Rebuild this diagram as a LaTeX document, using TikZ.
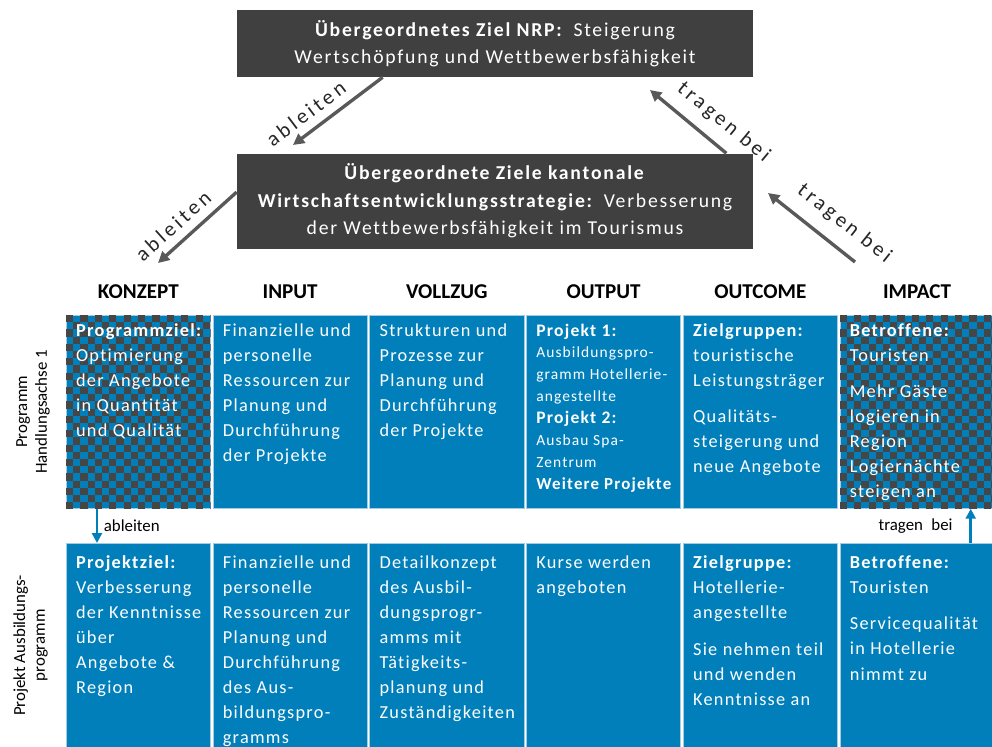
\documentclass[tikz,border=0pt]{standalone}
\usepackage{fontspec}
\setmainfont{Carlito}
\newfontfamily\cellfont{Carlito}[LetterSpace=7, Ligatures=NoCommon]
\newfontfamily\boxfont{Carlito}[LetterSpace=9, Ligatures=NoCommon]
\newfontfamily\arrowfont{Carlito}[LetterSpace=16, Ligatures=NoCommon]
\usetikzlibrary{arrows.meta,positioning,calc}
\definecolor{ablue}{RGB}{0,127,186}
\definecolor{darkbox}{RGB}{64,64,64}
\definecolor{checkgray}{RGB}{70,70,70}
\definecolor{arrowgray}{RGB}{89,89,89}
\definecolor{cellline}{RGB}{160,205,228}

\begin{document}
\begin{tikzpicture}[
    x=0.025cm, y=-0.025cm,
    node distance=0.05cm,
    topbox/.style={rectangle, fill=darkbox, text=white, minimum width=12.9cm, align=center, font=\boxfont\fontsize{14}{19.5}\selectfont},
    head/.style={font=\fontsize{15}{17}\selectfont\bfseries, inner sep=0pt},
    cell/.style={rectangle, fill=ablue, draw=cellline, line width=0.5pt, inner sep=0pt, minimum width=3.85cm, minimum height=4.825cm},
    cellrow/.style={cell, minimum height=5.1cm},
    celltext/.style={text=white, align=left, inner sep=0pt, font=\cellfont\fontsize{13}{17.8}\selectfont},
    rowlabel/.style={rotate=90, align=center, inner sep=0pt, font=\fontsize{12}{14}\selectfont},
    grayarrow/.style={-{Triangle[length=8pt,width=8pt]}, line width=2.4pt, draw=arrowgray},
    bluearrow/.style={-{Triangle[length=7pt,width=7pt]}, line width=1.8pt, draw=ablue},
    slopelabel/.style={sloped, inner sep=0pt, font=\arrowfont\fontsize{15}{17}\selectfont, text=black!85},
    smalllabel/.style={font=\fontsize{12}{14}\selectfont, inner sep=0pt}
]
\useasboundingbox (0,0) rectangle (992,747);

% top goals
\node[topbox, minimum height=1.675cm] (nrp) at (495,43.5) {\textbf{Übergeordnetes Ziel NRP:}\enspace Steigerung\\Wertschöpfung und Wettbewerbsfähigkeit};
\node[topbox, minimum height=2.375cm, below=1.9cm of nrp] (kant) {\textbf{Übergeordnete Ziele kantonale}\\\textbf{Wirtschaftsentwicklungsstrategie:}\enspace Verbesserung\\der Wettbewerbsfähigkeit im Tourismus};

% row 1: Programm
\node[cell, anchor=north west, minimum width=3.6cm] (k1) at (66,315) {};
\node[cell, right=of k1] (k2) {};
\node[cell, right=of k2] (k3) {};
\node[cell, right=of k3] (k4) {};
\node[cell, right=of k4] (k5) {};
\node[cell, right=of k5] (k6) {};

% row 2: Projekt
\node[cellrow, anchor=north west, minimum width=3.6cm] (p1) at (66,543) {};
\node[cellrow, right=of p1] (p2) {};
\node[cellrow, right=of p2] (p3) {};
\node[cellrow, right=of p3] (p4) {};
\node[cellrow, right=of p4] (p5) {};
\node[cellrow, right=of p5] (p6) {};

% checkered cells
\begin{scope}
\clip (k1.north west) rectangle (k1.south east);
\foreach \i in {0,2,...,20} \foreach \j in {0,2,...,26} {
  \fill[checkgray] ($(k1.north west)+(\i*7.2,\j*7.2)$) rectangle +(7.2,7.2);
  \fill[checkgray] ($(k1.north west)+(\i*7.2+7.2,\j*7.2+7.2)$) rectangle +(7.2,7.2);
}
\end{scope}
\begin{scope}
\clip (k6.north west) rectangle (k6.south east);
\foreach \i in {0,2,...,22} \foreach \j in {0,2,...,26} {
  \fill[checkgray] ($(k6.north west)+(\i*7.2,\j*7.2)$) rectangle +(7.2,7.2);
  \fill[checkgray] ($(k6.north west)+(\i*7.2+7.2,\j*7.2+7.2)$) rectangle +(7.2,7.2);
}
\end{scope}

% column heads
\node[head, above=0.39cm of k1] (h1) {KONZEPT};
\node[head, above=0.39cm of k2] (h2) {INPUT};
\node[head, above=0.39cm of k3] (h3) {VOLLZUG};
\node[head, above=0.39cm of k4] (h4) {OUTPUT};
\node[head, above=0.39cm of k5] (h5) {OUTCOME};
\node[head, above=0.39cm of k6] (h6) {IMPACT};

% row labels
\node[rowlabel, left=0.4cm of k1, anchor=south] (r1) {Programm\\Handlungsachse 1};
\node[rowlabel, left=0.45cm of p1, anchor=south] (r2) {Projekt Ausbildungs-\\programm};

% texts row 1
\node[celltext, below right=6pt and 7pt of k1.north west] (t1) {\textbf{Programmziel:}\\Optimierung\\der Angebote\\in Quantität\\und Qualität};
\node[celltext, below right=6pt and 7pt of k2.north west] (t2) {Finanzielle und\\personelle\\Ressourcen zur\\Planung und\\Durchführung\\der Projekte};
\node[celltext, below right=6pt and 7pt of k3.north west] (t3) {Strukturen und\\Prozesse zur\\Planung und\\Durchführung\\der Projekte};
\node[celltext, font=\cellfont\fontsize{11}{15.6}\selectfont, below right=6pt and 7pt of k4.north west] (t4) {{\fontsize{12.5}{15.6}\selectfont\bfseries Projekt 1:}\\Ausbildungspro-\\gramm Hotellerie-\\angestellte\\{\fontsize{12.5}{15.6}\selectfont\bfseries Projekt 2:}\\Ausbau Spa-\\Zentrum\\{\fontsize{12}{15.6}\selectfont\bfseries Weitere Projekte}};
\node[celltext, below right=6pt and 7pt of k5.north west] (t5) {\textbf{Zielgruppen:}\\touristische\\Leistungsträger\\[8pt]Qualitäts-\\steigerung und\\neue Angebote};
\node[celltext, below right=6pt and 7pt of k6.north west] (t6) {\textbf{Betroffene:}\\Touristen\\[8pt]Mehr Gäste\\logieren in\\Region\\Logiernächte\\steigen an};

% texts row 2
\node[celltext, below right=9pt and 7pt of p1.north west] (u1) {\textbf{Projektziel:}\\Verbesserung\\der Kenntnisse\\über\\Angebote \&\\Region};
\node[celltext, below right=9pt and 7pt of p2.north west] (u2) {Finanzielle und\\personelle\\Ressourcen zur\\Planung und\\Durchführung\\des Aus-\\bildungspro-\\gramms};
\node[celltext, below right=9pt and 7pt of p3.north west] (u3) {Detailkonzept\\des Ausbil-\\dungsprogr-\\amms mit\\Tätigkeits-\\planung und\\Zuständigkeiten};
\node[celltext, below right=9pt and 7pt of p4.north west] (u4) {Kurse werden\\angeboten};
\node[celltext, below right=9pt and 7pt of p5.north west] (u5) {\textbf{Zielgruppe:}\\Hotellerie-\\angestellte\\[8pt]Sie nehmen teil\\und wenden\\Kenntnisse an};
\node[celltext, below right=9pt and 7pt of p6.north west] (u6) {\textbf{Betroffene:}\\Touristen\\[8pt]Servicequalität\\in Hotellerie\\nimmt zu};

% gray arrows between goals
\coordinate (a1e) at (293,145);
\coordinate (a2e) at (158,263);
\coordinate (a3e) at (650,90);
\coordinate (a4s) at (855,262);
\coordinate (a4e) at (768,193);
\draw[grayarrow] ($(nrp.south west)+(146,0)$) -- node[slopelabel, pos=0.74, above=6pt] {ableiten} (a1e);
\draw[grayarrow] ($(kant.west)+(0,-9)$) -- node[slopelabel, pos=0.66, above=6pt] {ableiten} (a2e);
\draw[grayarrow] ($(kant.north east)+(-27,0)$) -- node[slopelabel, pos=0.22, above=8pt] {tragen bei} (a3e);
\draw[grayarrow] (a4s) -- node[slopelabel, pos=0.29, above=9pt] {tragen bei} (a4e);

% blue arrows between rows
\draw[bluearrow] ($(k1.south west)+(31,0)$) -- node[smalllabel, right=4pt] {ableiten} ($(p1.north west)+(31,0)$);
\draw[bluearrow] ($(p6.north west)+(131,0)$) -- node[smalllabel, left=12pt] {tragen\enspace bei} ($(k6.south west)+(131,0)$);
\end{tikzpicture}
\end{document}
